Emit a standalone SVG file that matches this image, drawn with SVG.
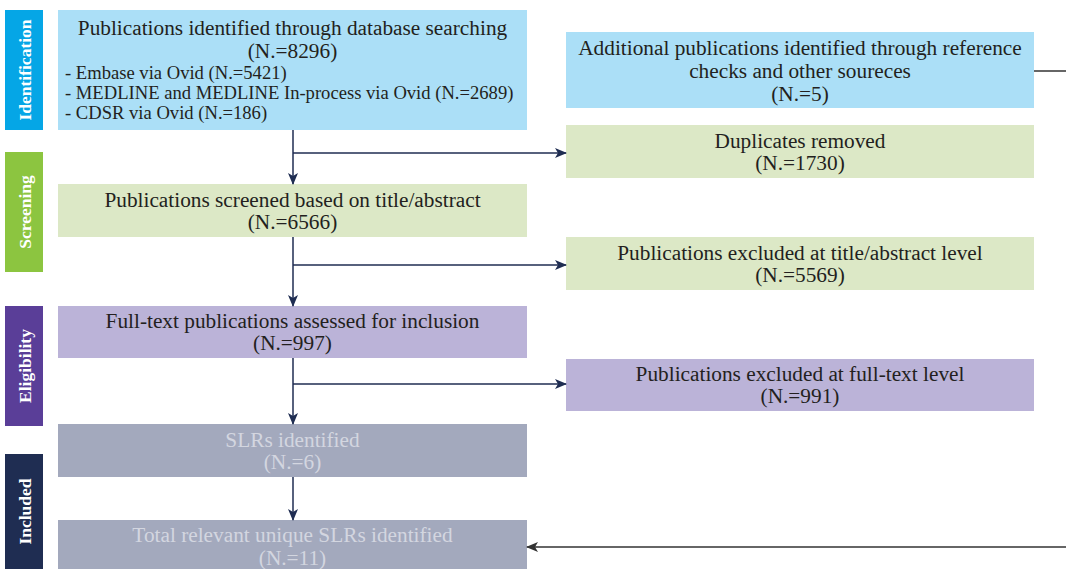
<svg xmlns="http://www.w3.org/2000/svg" width="1066" height="569" viewBox="0 0 1066 569">
<defs>
<style>
.t{font-family:"Liberation Serif","Times New Roman",serif;font-size:21.3px;fill:#231f20;text-anchor:middle}
.b{font-family:"Liberation Serif","Times New Roman",serif;font-size:18.6px;fill:#231f20}
.g{fill:#d3d6e0}
.lab{font-family:"Liberation Serif","Times New Roman",serif;font-size:17.5px;font-weight:bold;fill:#ffffff;text-anchor:middle}
.c{fill:none;stroke:#1f2d52;stroke-width:1.5}
.k{fill:none;stroke:#333333;stroke-width:1.5}
</style>
<marker id="ah" viewBox="0 0 12 10" refX="11" refY="5" markerWidth="12" markerHeight="10" markerUnits="userSpaceOnUse" orient="auto">
<path d="M0,0 L12,5 L0,10 L3,5 Z" fill="#1f2d52"/>
</marker>
<marker id="ak" viewBox="0 0 12 10" refX="11" refY="5" markerWidth="12" markerHeight="10" markerUnits="userSpaceOnUse" orient="auto">
<path d="M0,0 L12,5 L0,10 L3,5 Z" fill="#333333"/>
</marker>
</defs>
<rect width="1066" height="569" fill="#ffffff"/>

<g id="label-identification"><rect x="5" y="10" width="38" height="120" fill="#05a6e6"/><text class="lab" transform="translate(30.5,70) rotate(-90)">Identification</text></g>
<g id="label-screening"><rect x="5" y="152" width="38" height="120" fill="#8cc540"/><text class="lab" transform="translate(30.5,212) rotate(-90)">Screening</text></g>
<g id="label-eligibility"><rect x="5" y="306" width="38" height="120" fill="#5a3e98"/><text class="lab" transform="translate(30.5,366) rotate(-90)">Eligibility</text></g>
<g id="label-included"><rect x="5" y="454" width="38" height="115" fill="#1f2d52"/><text class="lab" transform="translate(30.5,511.5) rotate(-90)">Included</text></g>

<g id="node-database">
<rect x="58" y="10" width="469" height="120" fill="#abdff7"/>
<text class="t" x="292.5" y="35">Publications identified through database searching</text>
<text class="t" x="292.5" y="57.5">(N.=8296)</text>
<text class="b" x="65" y="79">- Embase via Ovid (N.=5421)</text>
<text class="b" x="65" y="99">- MEDLINE and MEDLINE In-process via Ovid (N.=2689)</text>
<text class="b" x="65" y="119">- CDSR via Ovid (N.=186)</text>
</g>
<g id="node-additional">
<rect x="566" y="32" width="468" height="76" fill="#abdff7"/>
<text class="t" x="800" y="55">Additional publications identified through reference</text>
<text class="t" x="800" y="78">checks and other soureces</text>
<text class="t" x="800" y="101">(N.=5)</text>
</g>
<g id="node-duplicates">
<rect x="566" y="125" width="468" height="53" fill="#dce8c6"/>
<text class="t" x="800" y="148">Duplicates removed</text>
<text class="t" x="800" y="170">(N.=1730)</text>
</g>
<g id="node-screened">
<rect x="58" y="184" width="469" height="53" fill="#dce8c6"/>
<text class="t" x="292.5" y="207">Publications screened based on title/abstract</text>
<text class="t" x="292.5" y="229">(N.=6566)</text>
</g>
<g id="node-excluded-ta">
<rect x="566" y="237" width="468" height="53" fill="#dce8c6"/>
<text class="t" x="800" y="260">Publications excluded at title/abstract level</text>
<text class="t" x="800" y="282">(N.=5569)</text>
</g>
<g id="node-fulltext">
<rect x="58" y="306" width="469" height="52" fill="#bbb3d8"/>
<text class="t" x="292.5" y="328">Full-text publications assessed for inclusion</text>
<text class="t" x="292.5" y="350">(N.=997)</text>
</g>
<g id="node-excluded-ft">
<rect x="566" y="359" width="468" height="52" fill="#bbb3d8"/>
<text class="t" x="800" y="381">Publications excluded at full-text level</text>
<text class="t" x="800" y="403">(N.=991)</text>
</g>
<g id="node-slrs">
<rect x="58" y="424" width="469" height="53" fill="#a3a9bd"/>
<text class="t g" x="292.5" y="446.5">SLRs identified</text>
<text class="t g" x="292.5" y="469">(N.=6)</text>
</g>
<g id="node-total">
<rect x="58" y="520" width="469" height="49" fill="#a3a9bd"/>
<text class="t g" x="292.5" y="542">Total relevant unique SLRs identified</text>
<text class="t g" x="292.5" y="565">(N.=11)</text>
</g>

<g id="connectors">
<line class="c" x1="293" y1="130" x2="293" y2="184" marker-end="url(#ah)"/>
<line class="c" x1="293" y1="153" x2="566" y2="153" marker-end="url(#ah)"/>
<line class="c" x1="293" y1="237" x2="293" y2="306" marker-end="url(#ah)"/>
<line class="c" x1="293" y1="265" x2="566" y2="265" marker-end="url(#ah)"/>
<line class="c" x1="293" y1="358" x2="293" y2="424" marker-end="url(#ah)"/>
<line class="c" x1="293" y1="384" x2="566" y2="384" marker-end="url(#ah)"/>
<line class="c" x1="293" y1="477" x2="293" y2="520" marker-end="url(#ah)"/>
<line class="k" x1="1034" y1="71" x2="1066" y2="71"/>
<line class="k" x1="1066" y1="547" x2="527" y2="547" marker-end="url(#ak)"/>
</g>
</svg>
